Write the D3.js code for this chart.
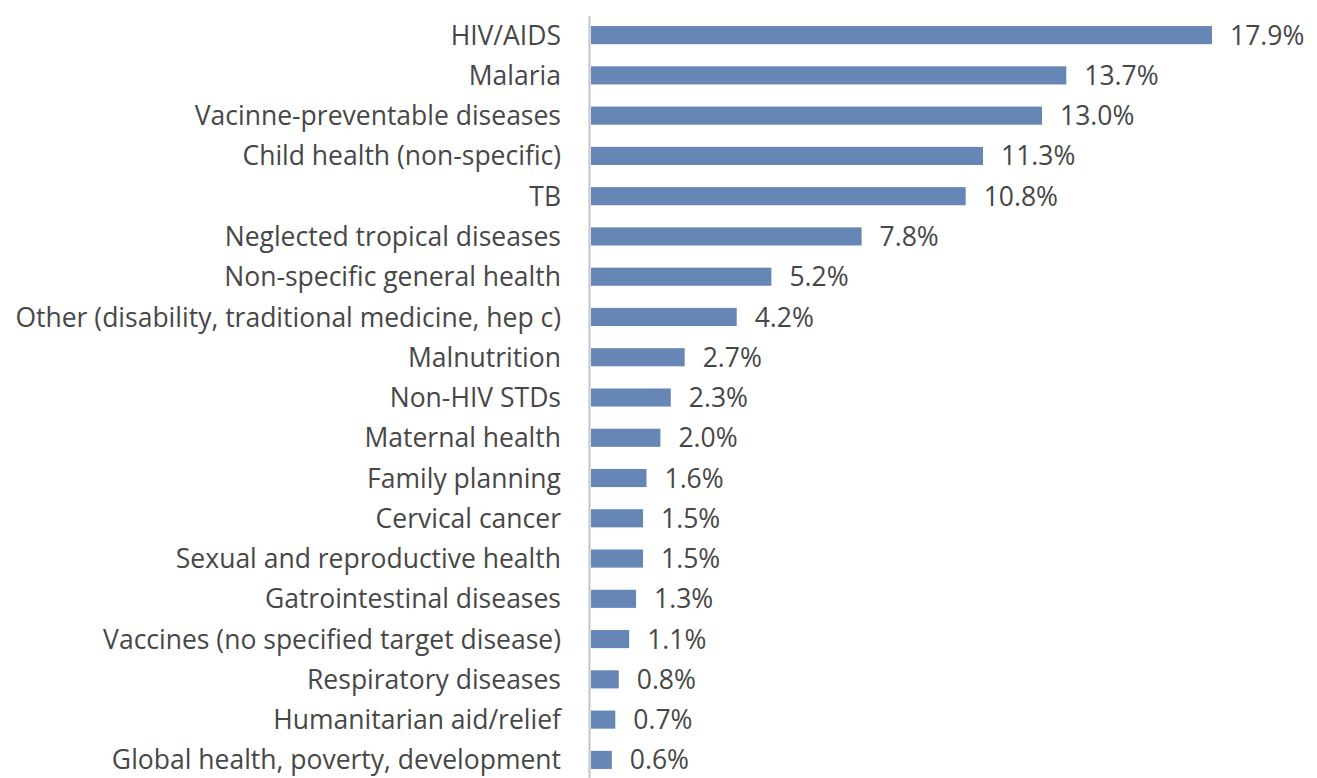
<!DOCTYPE html>
<html>
<head>
<meta charset="utf-8">
<script src="https://cdn.jsdelivr.net/npm/d3@7"></script>
<style>
  body { margin: 0; background: #fff; }
  svg { display: block; }
  .cat, .val { font-family: "Open Sans", Lato, sans-serif; fill: #474747; }
</style>
</head>
<body>
<svg></svg>
<script>
// categories and shares (%)
const categories = [
  "HIV/AIDS",
  "Malaria",
  "Vacinne-preventable diseases",
  "Child health (non-specific)",
  "TB",
  "Neglected tropical diseases",
  "Non-specific general  health",
  "Other (disability, traditional medicine, hep c)",
  "Malnutrition",
  "Non-HIV STDs",
  "Maternal health",
  "Family planning",
  "Cervical cancer",
  "Sexual and reproductive health",
  "Gatrointestinal diseases",
  "Vaccines (no specified target disease)",
  "Respiratory diseases",
  "Humanitarian aid/relief",
  "Global health, poverty, development"
];
const values = [17.9, 13.7, 13.0, 11.3, 10.8, 7.8, 5.2, 4.2, 2.7, 2.3, 2.0, 1.6, 1.5, 1.5, 1.3, 1.1, 0.8, 0.7, 0.6];

const width = 1317;
const height = 778;

const svg = d3.select("svg")
  .attr("width", width)
  .attr("height", height);

// x: 0..17.9 maps 591..1212
const x = d3.scaleLinear().domain([0, 17.9]).range([591, 1212]);
const y = d3.scaleBand()
  .domain(categories)
  .range([16, 779])
  .paddingInner(0.55)
  .paddingOuter(0.25);

// bars
svg.selectAll(".bar")
  .data(values)
  .enter()
  .append("rect")
  .attr("class", "bar")
  .attr("x", x(0))
  .attr("y", (d, i) => y(categories[i]))
  .attr("width", d => x(d) - x(0))
  .attr("height", y.bandwidth())
  .attr("fill", "#6686b6");

// axis line
svg.append("line")
  .attr("x1", 589.5).attr("x2", 589.5)
  .attr("y1", 16).attr("y2", height)
  .attr("stroke", "#c4c4c4")
  .attr("stroke-width", 2);

// category labels
svg.selectAll(".cat")
  .data(categories)
  .enter()
  .append("text")
  .attr("class", "cat")
  .attr("x", 561)
  .attr("y", d => y(d) + y.bandwidth() / 2)
  .attr("dy", "0.36em")
  .attr("text-anchor", "end")
  .style("font-size", "26.5px")
  .text(d => d);

// value labels
svg.selectAll(".val")
  .data(values)
  .enter()
  .append("text")
  .attr("class", "val")
  .attr("x", d => x(d) + 18)
  .attr("y", (d, i) => y(categories[i]) + y.bandwidth() / 2)
  .attr("dy", "0.36em")
  .style("font-size", "26.5px")
  .text(d => d.toFixed(1) + "%");
</script>
</body>
</html>
